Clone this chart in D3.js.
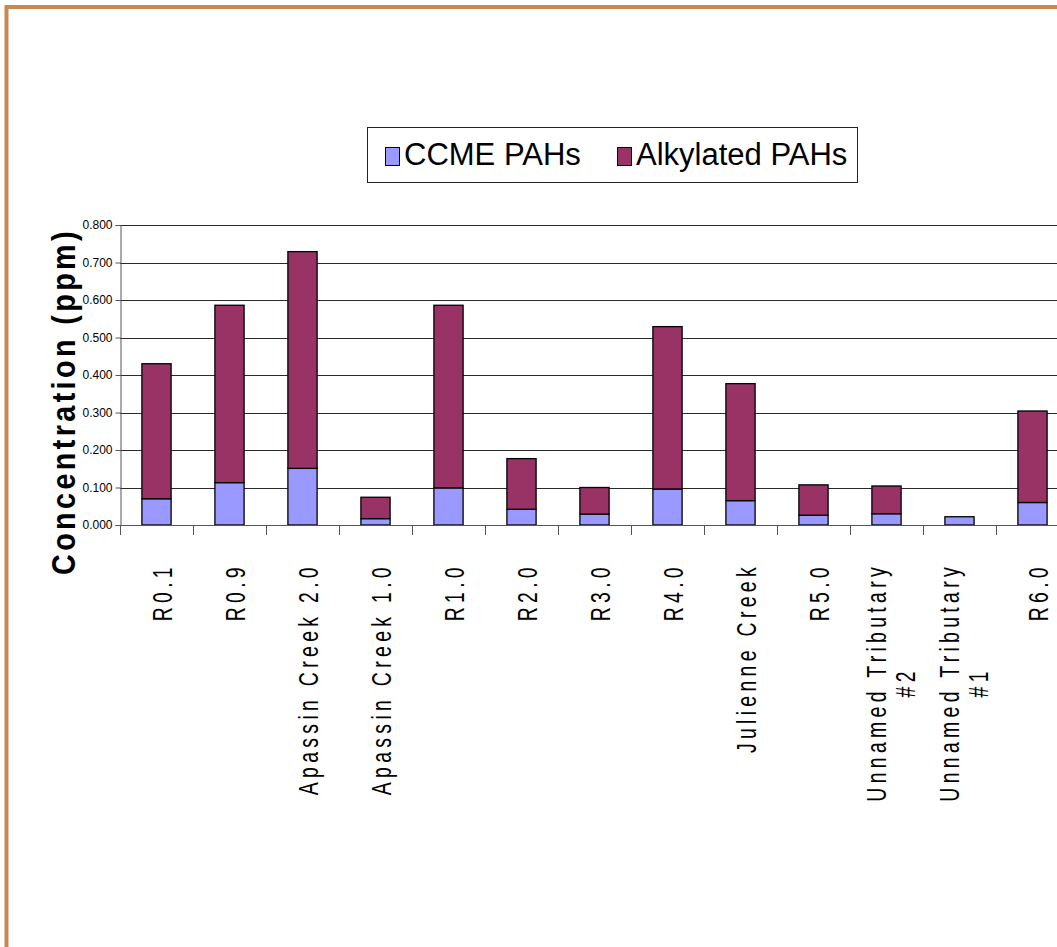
<!DOCTYPE html>
<html>
<head>
<meta charset="utf-8">
<script src="https://cdn.jsdelivr.net/npm/d3@7/dist/d3.min.js"></script>
<style>
  html, body { margin: 0; padding: 0; background: #fff; }
  svg { display: block; }
  text { font-family: "Liberation Sans", Arial, sans-serif; }
</style>
</head>
<body>
<svg id="chart" width="1057" height="947"></svg>
<script>
// ---- data ----
const categories = [
  ["R0.1"], ["R0.9"], ["Apassin Creek 2.0"], ["Apassin Creek 1.0"], ["R1.0"],
  ["R2.0"], ["R3.0"], ["R4.0"], ["Julienne Creek"], ["R5.0"],
  ["Unnamed Tributary", "#2"], ["Unnamed Tributary", "#1"], ["R6.0"]
];
const seriesNames = ["CCME PAHs", "Alkylated PAHs"];
const ccmePAHs      = [0.070, 0.113, 0.151, 0.017, 0.099, 0.042, 0.029, 0.096, 0.065, 0.026, 0.030, 0.022, 0.060];
const alkylatedPAHs = [0.360, 0.473, 0.578, 0.057, 0.487, 0.135, 0.071, 0.433, 0.312, 0.081, 0.074, 0.000, 0.244];
const yTickValues = [0, 0.1, 0.2, 0.3, 0.4, 0.5, 0.6, 0.7, 0.8];
const yTitle = "Concentration (ppm)";

// ---- layout ----
const svg = d3.select("#chart");
const colors = ["#9999FF", "#993366"];
const plotLeft = 120, plotRight = 1069, plotTop = 225, plotBottom = 525;

// border
svg.append("rect").attr("x", 6.5).attr("y", 7).attr("width", 1200).attr("height", 1200)
  .attr("fill", "none").attr("stroke", "#C68A4E").attr("stroke-width", 4);

const x = d3.scaleBand().domain(d3.range(categories.length))
  .range([plotLeft, plotRight]).paddingInner(0.6).paddingOuter(0.3);
const y = d3.scaleLinear().domain([0, 0.8]).range([plotBottom, plotTop]);
const step = x.step();

// gridlines
svg.append("g").selectAll("line").data(yTickValues.filter(v => v > 0)).join("line")
  .attr("x1", plotLeft).attr("x2", plotRight)
  .attr("y1", d => Math.round(y(d)) + 0.5).attr("y2", d => Math.round(y(d)) + 0.5)
  .attr("stroke", "#2a2a2a").attr("stroke-width", 1);

// stacked bars
const stackData = categories.map((c, i) => ({ i, ccme: ccmePAHs[i], alk: alkylatedPAHs[i] }));
const stack = d3.stack().keys(["ccme", "alk"])(stackData);
svg.append("g").selectAll("g").data(stack).join("g")
  .attr("fill", (d, k) => colors[k])
  .selectAll("rect").data(d => d.filter(s => s[1] - s[0] > 0)).join("rect")
  .attr("x", d => x(d.data.i))
  .attr("width", x.bandwidth())
  .attr("y", d => y(d[1]))
  .attr("height", d => y(d[0]) - y(d[1]))
  .attr("stroke", "#000").attr("stroke-width", 1.3);

// y axis
const yAxis = d3.axisLeft(y).tickValues(yTickValues).tickFormat(d3.format(".3f")).tickSize(5).tickPadding(3);
const gy = svg.append("g").attr("transform", `translate(${plotLeft + 0.5},0)`).call(yAxis);
gy.select(".domain").attr("stroke", "#555");
gy.selectAll(".tick line").attr("stroke", "#555");
gy.selectAll(".tick text").attr("font-size", 12).attr("fill", "#000")
  .attr("font-family", "'Liberation Sans', Arial, sans-serif");

// x axis line and ticks at category boundaries
svg.append("line").attr("x1", plotLeft).attr("x2", plotRight)
  .attr("y1", plotBottom + 0.5).attr("y2", plotBottom + 0.5).attr("stroke", "#555");
svg.append("g").selectAll("line").data(d3.range(categories.length + 1)).join("line")
  .attr("x1", i => Math.round(plotLeft + i * step) + 0.5).attr("x2", i => Math.round(plotLeft + i * step) + 0.5)
  .attr("y1", plotBottom).attr("y2", plotBottom + 10).attr("stroke", "#555");

// x labels
const labelEnd = 563, sx = 0.72;
const lg = svg.append("g");
categories.forEach((lines, i) => {
  const cx = x(i) + x.bandwidth() / 2;
  if (lines.length === 1) {
    lg.append("text")
      .attr("transform", `translate(${cx + 15.5},${labelEnd}) rotate(-90) scale(${sx},1)`)
      .attr("text-anchor", "end").attr("font-size", 27).attr("letter-spacing", 6)
      .text(lines[0]);
  } else {
    const t1 = lg.append("text")
      .attr("transform", `translate(${cx - 1},${labelEnd}) rotate(-90) scale(${sx},1)`)
      .attr("text-anchor", "end").attr("font-size", 27).attr("letter-spacing", 6)
      .text(lines[0]);
    const L = t1.node().getComputedTextLength() * sx;
    lg.append("text")
      .attr("transform", `translate(${cx + 28},${labelEnd + L / 2}) rotate(-90) scale(${sx},1)`)
      .attr("text-anchor", "middle").attr("font-size", 27).attr("letter-spacing", 6)
      .text(lines[1]);
  }
});

// y title
svg.append("text")
  .attr("transform", `translate(75,575) rotate(-90)`)
  .attr("text-anchor", "start").attr("font-size", 34).attr("font-weight", "bold")
  .attr("letter-spacing", 4)
  .attr("textLength", 347).attr("lengthAdjust", "spacingAndGlyphs")
  .text(yTitle);

// legend
const leg = svg.append("g");
leg.append("rect").attr("x", 367.5).attr("y", 127.5).attr("width", 490).attr("height", 55)
  .attr("fill", "#fff").attr("stroke", "#222");
const legX = [385, 617];
seriesNames.forEach((n, k) => {
  leg.append("rect").attr("x", legX[k] + 0.5).attr("y", 147.5).attr("width", 14).attr("height", 18)
    .attr("fill", colors[k]).attr("stroke", "#000");
  leg.append("text").attr("x", legX[k] + 19).attr("y", 165).attr("font-size", 31).text(n);
});
</script>
</body>
</html>
